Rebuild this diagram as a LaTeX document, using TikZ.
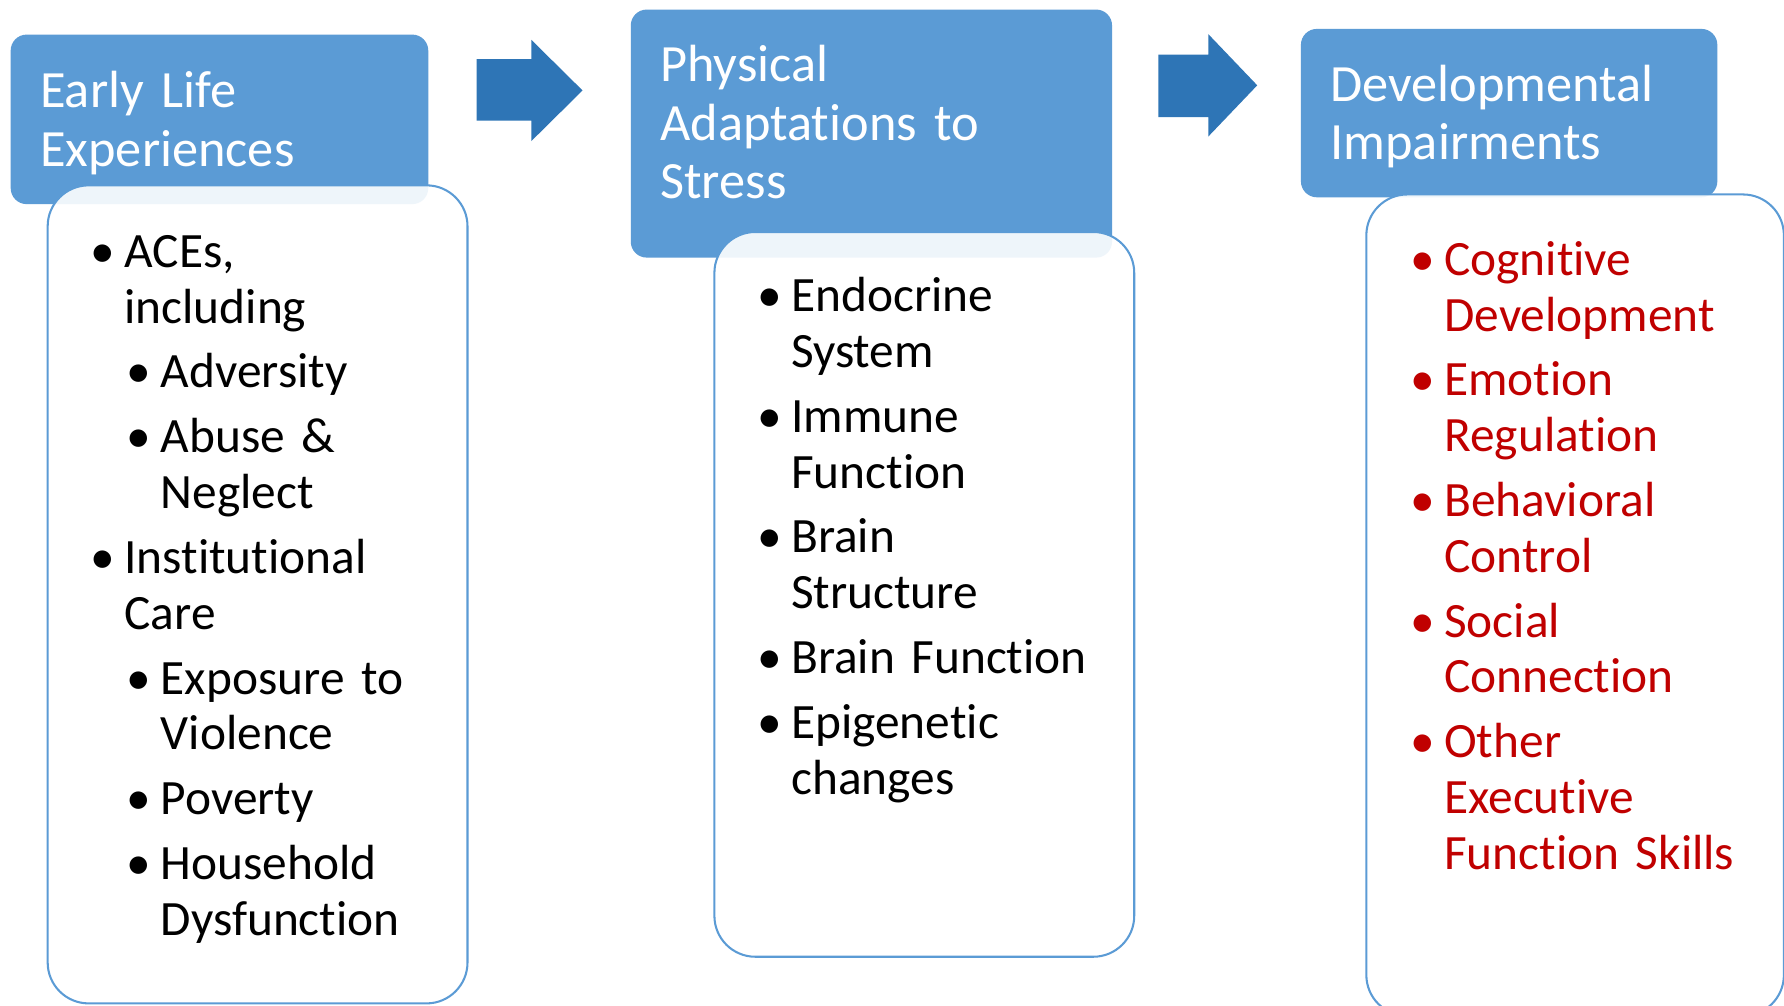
\documentclass[tikz,border=0pt]{standalone}
\usepackage{fontspec}
\setmainfont{Carlito}[Ligatures=NoCommon]
\usetikzlibrary{positioning}
\definecolor{hdrblue}{HTML}{5B9BD5}
\definecolor{arrblue}{HTML}{2E75B6}
\definecolor{itemred}{HTML}{C00000}
\tikzset{
  hdr/.style      = {fill=hdrblue, rounded corners=7pt, anchor=north west,
                     text=white, align=left, inner xsep=13pt, inner ysep=0pt,
                     font=\fontsize{23pt}{25.75pt}\selectfont},
  bodybox/.style  = {draw=hdrblue, line width=0.9pt, fill=white, fill opacity=0.9,
                     rounded corners=18pt, anchor=north west, inner sep=0pt},
  itemlist/.style = {anchor=base west, inner sep=0pt, align=left, text width=190pt,
                     font=\fontsize{21.7pt}{24.5pt}\selectfont},
  bigarrow/.style = {fill=arrblue},
}
\newcommand{\bul}{\makebox[11pt][l]{\hspace{-4pt}\textbullet}}
\newcommand{\itema}[1]{\par\setlength{\parskip}{4pt}\leftskip=0pt\hangindent=11pt\hangafter=1%
  \noindent\bul#1\par}
\newcommand{\itemb}[1]{\par\setlength{\parskip}{4pt}\leftskip=16pt\hangindent=11pt\hangafter=1%
  \noindent\bul#1\par}

\begin{document}
\begin{tikzpicture}[x=0.5pt,y=-0.5pt]
\path[use as bounding box] (0,0) rectangle (1568,884);
\fill[white] (0,0) rectangle (1568,884);
\clip (0,0) rectangle (1568,884);
% headers
\node[hdr, text width=157.5pt, minimum height=74.5pt] (h1) at (9,30) {Early Life\\Experiences\par\vspace{-3pt}};
\node[hdr, text width=185.5pt, minimum height=109pt] (h2) at (554,8) {Physical\\Adaptations to\\Stress\par\vspace{10pt}};
\node[hdr, text width=157pt, minimum height=74pt] (h3) at (1143,25) {Developmental\\Impairments\par\vspace{-3pt}};
% bodies
\node[bodybox, minimum width=184.5pt, minimum height=359.5pt] (b1) at (41,162) {};
\node[bodybox, minimum width=184.5pt, minimum height=318.5pt] (b2) at (627,203) {};
\node[bodybox, minimum width=183.5pt, minimum height=361pt] (b3) at (1200,170) {};
% arrows
\fill[bigarrow] (419,52) -- (467,52) -- (467,35) -- (512,79.5) -- (467,124) -- (467,106) -- (419,106) -- cycle;
\fill[bigarrow] (1018,48) -- (1062,48) -- (1062,30) -- (1105,75) -- (1062,120) -- (1062,103) -- (1018,103) -- cycle;
% lists
\node[itemlist] (l1) at (87,178) {%
  \itema{ACEs,\newline including}\itemb{Adversity}\itemb{Abuse \&\newline Neglect}%
  \itema{Institutional\newline Care}\itemb{Exposure to\newline Violence}%
  \itemb{Poverty}\itemb{Household\newline Dysfunction}};
\node[itemlist] (l2) at (673,217) {%
  \itema{Endocrine\newline System}\itema{Immune\newline Function}%
  \itema{Brain\newline Structure}\itema{Brain Function}\itema{Epigenetic\newline changes}};
\node[itemlist, text=itemred] (l3) at (1247,185) {%
  \itema{Cognitive\newline Development}\itema{Emotion\newline Regulation}%
  \itema{Behavioral\newline Control}\itema{Social\newline Connection}%
  \itema{Other\newline Executive\newline Function Skills}};
\end{tikzpicture}
\end{document}
